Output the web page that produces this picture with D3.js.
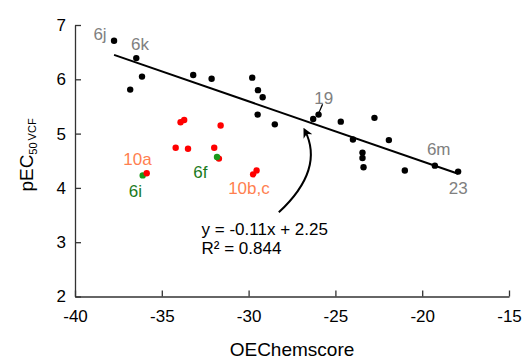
<!DOCTYPE html>
<html>
<head>
<meta charset="utf-8">
<script src="https://cdn.jsdelivr.net/npm/d3@7/dist/d3.min.js"></script>
<style>
    body { margin: 0; background: #fff; }
    text { font-family: Arial, "Liberation Sans", sans-serif; }
</style>
</head>
<body>
<div id="chart"></div>
<script>
// 坐标轴刻度
var xTicks = [-40, -35, -30, -25, -20, -15];
var yTicks = [2, 3, 4, 5, 6, 7];

// 黑色点 (OEChemscore, pEC50)
var blackX = [-37.75, -36.47, -36.14, -36.82, -33.19, -32.13, -29.79, -29.46, -29.19, -29.48, -28.49,
    -26.28, -25.97, -24.69, -22.75, -23.99, -21.92, -23.44, -23.44, -23.38, -21.0, -19.27, -17.93];
var blackY = [6.71, 6.39, 6.05, 5.81, 6.08, 6.01, 6.03, 5.80, 5.67, 5.35, 5.17,
    5.27, 5.35, 5.22, 5.29, 4.89, 4.88, 4.65, 4.55, 4.38, 4.32, 4.41, 4.30];

// 红色点
var redX = [-33.92, -33.71, -31.61, -34.20, -33.49, -31.98, -31.71, -35.87, -29.74, -29.54];
var redY = [5.21, 5.25, 5.15, 4.74, 4.72, 4.74, 4.54, 4.27, 4.25, 4.32];

// 绿色点 (6i, 6f)
var greenX = [-36.10, -31.82];
var greenY = [4.23, 4.57];

// 回归线两端
var regX = [-37.75, -17.93];
var regY = [6.45, 4.26];

// 点标注
var labelText = ['6j', '6k', '19', '6m', '23', '10a', '6i', '6f', '10b,c'];
var labelX = [-38.56, -36.26, -25.67, -19.05, -17.92, -36.40, -36.52, -32.78, -29.98];
var labelY = [6.72, 6.54, 5.55, 4.60, 3.88, 4.43, 3.83, 4.19, 3.88];
var labelKind = ['gray', 'gray', 'gray', 'gray', 'gray', 'orange', 'green', 'green', 'orange'];

// 19 的引线
var leaderX = [-25.74, -25.97];
var leaderY = [5.54, 5.37];

// 公式文本
var eqText = ['y = -0.11x + 2.25', 'R² = 0.844'];
var eqX = [-32.71, -32.71];
var eqY = [3.13, 2.78];

// 弯箭头 起点 / 控制点 / 终点
var arrowX = [-28.26, -25.61, -26.76];
var arrowY = [3.55, 4.34, 5.06];

function scatterChart(selector, opt) {
    this.svg;
    this.selector = selector;
    this.defaultOpt = {
        width: 523,
        height: 361,
        left: 75,    // 纵轴X
        right: 509,  // 横轴终点
        top: 25,
        bottom: 296.5, // 横轴Y
        axisC: '#333',
        axisW: 1.3,
        dotR: 3.2,
        fontSize: 17,
        colors: {
            black: '#000',
            red: '#ff0000',
            green: '#1a9a1a',
            gray: '#808080',
            orange: '#ff7f50',
            greenText: '#1b7a1b'
        }
    };
    Object.assign(this.defaultOpt, opt);
    this.opt = this.defaultOpt;
}

// 初始化坐标轴
scatterChart.prototype.initAxis = function () {
    var opt = this.opt;
    var svg = d3.select(this.selector).append('svg')
        .attr('width', opt.width).attr('height', opt.height);

    this.x = d3.scaleLinear().domain([-40, -15]).range([opt.left, opt.right]);
    this.y = d3.scaleLinear().domain([2, 7]).range([opt.bottom, opt.top]);

    // 刻度值用普通减号
    var fmt = function (d) { return String(d); };

    // 横轴
    var gx = svg.append('g').attr('transform', 'translate(0,' + opt.bottom + ')')
        .call(d3.axisBottom(this.x).tickValues(xTicks).tickFormat(fmt)
            .tickSizeInner(-6).tickSizeOuter(0).tickPadding(13));
    // 纵轴
    var gy = svg.append('g').attr('transform', 'translate(' + opt.left + ',0)')
        .call(d3.axisLeft(this.y).tickValues(yTicks).tickFormat(fmt)
            .tickSizeInner(-6).tickSizeOuter(0).tickPadding(9));

    [gx, gy].forEach(function (g) {
        g.selectAll('path, line').attr('stroke', opt.axisC).attr('stroke-width', opt.axisW);
        g.selectAll('text').attr('fill', '#000').style('font-size', opt.fontSize + 'px')
            .style('font-family', 'Arial, "Liberation Sans", sans-serif');
    });

    // 横轴标题
    svg.append('text').text('OEChemscore')
        .attr('x', (opt.left + opt.right) / 2).attr('y', 356)
        .attr('text-anchor', 'middle').style('font-size', '19px');

    // 纵轴标题
    var yt = svg.append('text')
        .attr('transform', 'translate(33,155) rotate(-90)')
        .attr('text-anchor', 'middle').style('font-size', '19px');
    yt.append('tspan').text('pEC');
    yt.append('tspan').text('50').attr('dy', 4).style('font-size', '11px');
    yt.append('tspan').text('VCF').attr('dy', -1).attr('dx', 2).style('font-size', '11px');

    this.svg = svg;
    return this;
};

// 填充数据
scatterChart.prototype.initData = function () {
    var svg = this.svg, opt = this.opt, x = this.x, y = this.y;

    // 黑点
    for (var i = 0; i < blackX.length; i++) {
        svg.append('circle').attr('cx', x(blackX[i])).attr('cy', y(blackY[i]))
            .attr('r', opt.dotR).attr('fill', opt.colors.black);
    }
    // 回归线
    svg.append('line')
        .attr('x1', x(regX[0])).attr('y1', y(regY[0]))
        .attr('x2', x(regX[1])).attr('y2', y(regY[1]))
        .attr('stroke', '#000').attr('stroke-width', 2);

    // 绿点 6i 在红点下面
    svg.append('circle').attr('cx', x(greenX[0])).attr('cy', y(greenY[0]))
        .attr('r', opt.dotR).attr('fill', opt.colors.green);
    // 红点
    for (var i = 0; i < redX.length; i++) {
        svg.append('circle').attr('cx', x(redX[i])).attr('cy', y(redY[i]))
            .attr('r', opt.dotR).attr('fill', opt.colors.red);
    }
    // 绿点 6f 在红点上面
    svg.append('circle').attr('cx', x(greenX[1])).attr('cy', y(greenY[1]))
        .attr('r', opt.dotR).attr('fill', opt.colors.green);

    // 标注
    for (var i = 0; i < labelText.length; i++) {
        var c = labelKind[i] == 'green' ? opt.colors.greenText : opt.colors[labelKind[i]];
        svg.append('text').text(labelText[i])
            .attr('x', x(labelX[i])).attr('y', y(labelY[i]))
            .attr('text-anchor', 'middle').attr('fill', c)
            .style('font-size', opt.fontSize + 'px');
    }
    // 19 引线
    svg.append('line')
        .attr('x1', x(leaderX[0])).attr('y1', y(leaderY[0]))
        .attr('x2', x(leaderX[1])).attr('y2', y(leaderY[1]))
        .attr('stroke', '#000').attr('stroke-width', 1.3);

    // 公式
    for (var i = 0; i < eqText.length; i++) {
        svg.append('text').text(eqText[i])
            .attr('x', x(eqX[i])).attr('y', y(eqY[i]))
            .attr('fill', '#000').style('font-size', opt.fontSize + 'px');
    }

    // 弯箭头
    svg.append('defs').append('marker')
        .attr('id', 'arrow').attr('viewBox', '0 0 10 10')
        .attr('refX', 7).attr('refY', 5)
        .attr('markerWidth', 5).attr('markerHeight', 5)
        .attr('orient', 'auto')
        .append('path').attr('d', 'M0,0 L10,5 L0,10 L3,5 z').attr('fill', '#000');
    svg.append('path')
        .attr('d', 'M' + x(arrowX[0]) + ',' + y(arrowY[0]) +
            ' Q' + x(arrowX[1]) + ',' + y(arrowY[1]) +
            ' ' + x(arrowX[2]) + ',' + y(arrowY[2]))
        .attr('fill', 'none').attr('stroke', '#000').attr('stroke-width', 2)
        .attr('marker-end', 'url(#arrow)');

    return this;
};

new scatterChart('#chart').initAxis().initData();
</script>
</body>
</html>
